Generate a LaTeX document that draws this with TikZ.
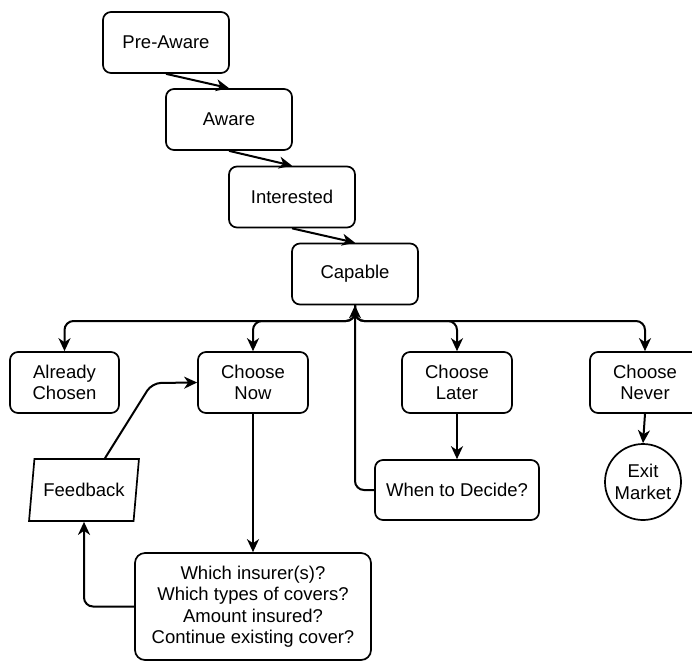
\documentclass[tikz,border=0pt]{standalone}
\usepackage{fontspec}
\setmainfont{Liberation Sans}
\usetikzlibrary{arrows.meta,shapes.geometric,calc}
\begin{document}
\begin{tikzpicture}[x=1pt,y=-1pt,
  every node/.style={font=\fontsize{18.5}{21.5}\selectfont, align=center, inner sep=0pt},
  stage/.style={draw, line width=1.7pt, rounded corners=8pt, minimum width=126pt, minimum height=61pt},
  choice/.style={draw, line width=1.7pt, rounded corners=8pt, minimum width=110pt, minimum height=61pt},
  arr/.style={line width=2pt, -{Stealth[length=13pt,width=12pt,inset=4pt]}},
  flow/.style={arr, rounded corners=9pt}]
\useasboundingbox (0,0) rectangle (692,662);
\clip (0,0) rectangle (692,662);
\node[stage] (pre) at (166,42.5) {Pre-Aware};
\node[stage] (aw) at (229,119.5) {Aware};
\node[stage] (int) at (292,197) {Interested};
\node[stage] (cap) at (355,274) {Capable};
\node[choice, minimum width=109pt] (ac) at (64.5,382.5) {Already\\Chosen};
\node[choice] (cn) at (253,382.5) {Choose\\Now};
\node[choice] (cl) at (457,382.5) {Choose\\Later};
\node[choice] (cv) at (645,382.5) {Choose\\Never};
\node[choice, minimum width=164pt, minimum height=60pt] (wtd) at (457,490) {When to Decide?};
\node[draw, circle, line width=1.7pt, minimum size=76pt] (ex) at (643,482) {Exit\\Market};
\node[draw, trapezium, trapezium left angle=72, trapezium right angle=108, trapezium stretches=true, line width=1.7pt, minimum width=110pt, minimum height=62pt] (fb) at (84,490) {Feedback};
\node[draw, line width=1.7pt, rounded corners=10pt, minimum width=236pt, minimum height=107pt] (wi) at (253,606.5) {Which insurer(s)?\\Which types of covers?\\Amount insured?\\Continue existing cover?};
\coordinate (bus) at (355,321);
\draw[arr] (pre.south) -- (aw.north);
\draw[arr] (aw.south) -- (int.north);
\draw[arr] (int.south) -- (cap.north);
\draw[flow] (cap.south) -- (bus) -| (ac.north);
\draw[flow] (cap.south) -- (bus) -| (cn.north);
\draw[flow] (cap.south) -- (bus) -| (cl.north);
\draw[flow] (cap.south) -- (bus) -| (cv.north);
\draw[flow] (wtd.west) -| (cap.south);
\draw[arr] (cl.south) -- (wtd.north);
\draw[arr] (cv.south) -- (ex.north);
\draw[arr] (cn.south) -- (wi.north);
\draw[flow] (wi.west) -| (fb.south);
\coordinate (fbk) at (152,383);
\draw[flow] ($(fb.north)+(21,0)$) -- (fbk) -- (cn.west);
\end{tikzpicture}
\end{document}
